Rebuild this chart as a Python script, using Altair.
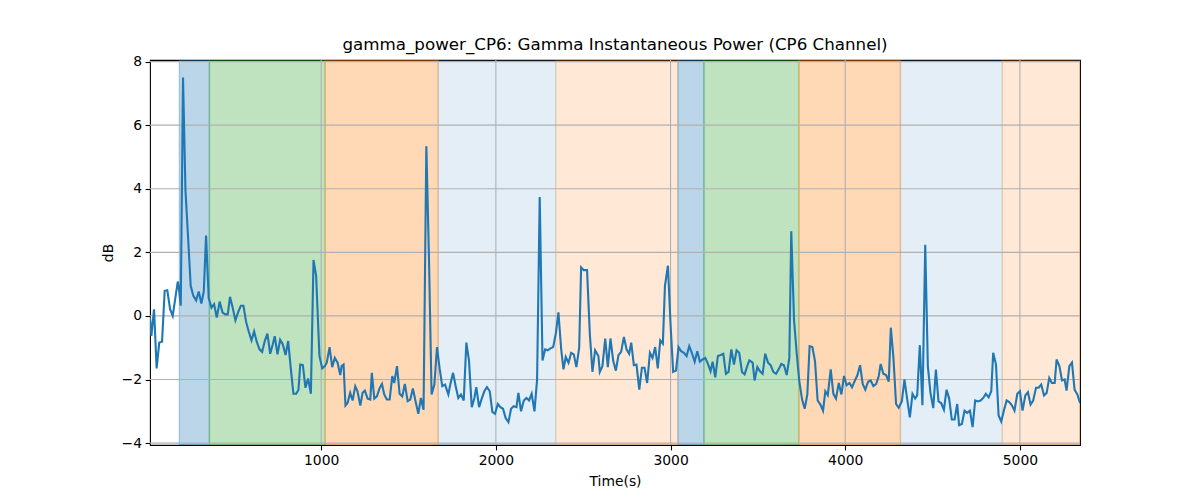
import altair as alt
import pandas as pd

# ---- line data (time in s, power in dB) ----
t_a = [20, 28, 43, 58, 73, 89, 104, 119, 135, 150, 165, 179, 184, 196, 209, 223, 238, 253, 268, 284,
       299, 314, 328, 341, 356, 372, 387, 402, 419, 435, 450, 465, 478, 494, 509, 524, 540, 555, 570,
       585, 601, 616, 631, 647, 662, 677, 692, 708, 723, 734, 750, 765, 780, 796, 811, 826, 841, 857, 870]
v_a = [-0.05, -0.63, 0.21, -1.65, -0.84, -0.81, 0.79, 0.81, 0.21, 0.0, 0.56, 1.08, 0.95, 0.32, 7.5,
       3.95, 2.47, 0.95, 0.63, 0.49, 0.77, 0.39, 0.77, 2.53, 0.56, 0.26, 0.37, -0.05, 0.45, 0.11, 0.05,
       0.05, 0.6, 0.24, -0.14, 0.11, 0.32, 0.32, -0.18, -0.49, -0.77, -0.49, -0.81, -1.05, -1.13, -0.79,
       -0.56, -1.19, -0.89, -0.64, -1.21, -0.75, -0.89, -1.23, -0.79, -1.65, -2.45, -2.45, -2.32]

t_b = [880, 895, 910, 925, 941, 956, 971, 990, 1006, 1021, 1032, 1048, 1063, 1078, 1094, 1109, 1117,
       1128, 1139, 1151, 1166, 1180, 1195, 1208, 1224, 1237, 1250, 1266, 1281, 1290, 1304, 1319, 1334,
       1348, 1361, 1376, 1392, 1407, 1418, 1434, 1449, 1464, 1479, 1495, 1510, 1525, 1540, 1556, 1571,
       1586, 1602, 1617, 1632, 1648, 1663, 1678, 1693, 1709, 1728]
v_b = [-1.53, -1.55, -2.26, -1.97, -2.45, 1.76, 1.26, -1.26, -1.65, -1.58, -1.47, -0.98, -1.61, -1.32,
       -1.47, -1.86, -1.58, -1.53, -2.82, -2.74, -2.42, -2.66, -2.21, -2.37, -2.82, -2.42, -2.35, -2.6,
       -2.63, -1.79, -2.6, -2.53, -2.28, -2.14, -2.47, -2.63, -2.63, -1.89, -2.11, -1.58, -2.45, -2.53,
       -2.14, -2.68, -2.63, -2.28, -2.68, -3.08, -2.58, -2.95, 5.34, 1.84, -2.47, -2.16, -0.98, -1.65,
       -2.21, -2.16, -2.47]

t_c = [1739, 1755, 1770, 1785, 1800, 1816, 1831, 1846, 1862, 1877, 1888, 1904, 1919, 1934, 1949, 1965,
       1980, 1995, 2011, 2026, 2041, 2056, 2072, 2087, 2102, 2118, 2129, 2144, 2160, 2175, 2190, 2205,
       2221, 2236, 2251, 2267, 2282, 2297, 2312, 2328, 2343, 2358, 2374, 2387, 2400, 2416, 2431, 2446,
       2461, 2477, 2488, 2503, 2522, 2538, 2553, 2568, 2587]
v_c = [-2.16, -1.79, -2.21, -2.58, -2.47, -2.66, -0.84, -1.4, -2.87, -2.58, -2.24, -2.87, -2.6, -2.37,
       -2.24, -2.37, -3.02, -3.08, -2.77, -2.87, -2.92, -3.21, -3.34, -2.92, -2.84, -2.87, -2.42, -3.0,
       -2.66, -2.58, -2.66, -2.45, -3.0, -2.0, 3.74, -1.4, -1.05, -1.08, -1.02, -0.98, -0.56, 0.11,
       -1.05, -1.68, -1.29, -1.47, -1.16, -1.21, -1.61, -1.0, 1.53, 1.44, 1.44, -0.58, -1.76, -1.08, -1.26]

t_d = [2595, 2610, 2626, 2641, 2656, 2672, 2687, 2702, 2717, 2733, 2748, 2763, 2775, 2790, 2805, 2821,
       2836, 2851, 2866, 2882, 2897, 2912, 2927, 2941, 2956, 2968, 2985, 3000, 3015, 3031, 3046, 3061,
       3076, 3092, 3107, 3122, 3138, 3153, 3168, 3183, 3199, 3214, 3229, 3241, 3256, 3271, 3287, 3302,
       3317, 3332, 3348, 3363, 3378, 3393, 3409, 3424, 3439, 3451]
v_d = [-1.76, -1.58, -0.71, -1.61, -0.71, -1.42, -1.72, -1.23, -1.13, -0.66, -1.05, -1.19, -0.84, -1.55,
       -1.53, -2.32, -1.63, -1.63, -2.11, -1.16, -1.32, -0.98, -1.65, -0.77, -0.87, 0.95, 1.58, -0.26,
       -1.76, -1.72, -0.98, -1.11, -1.16, -1.26, -0.95, -1.16, -1.44, -1.11, -1.44, -1.37, -1.32, -1.51,
       -1.74, -1.44, -1.93, -1.26, -1.23, -1.19, -1.82, -1.76, -1.05, -1.53, -1.08, -1.16, -1.76, -1.84,
       -1.58, -1.4]

t_e = [3470, 3481, 3497, 3512, 3527, 3542, 3558, 3573, 3588, 3604, 3619, 3634, 3649, 3665, 3680, 3691,
       3707, 3722, 3737, 3753, 3768, 3783, 3796, 3812, 3827, 3842, 3858, 3873, 3886, 3900, 3917, 3932,
       3947, 3963, 3978, 3993, 4008, 4024, 4039, 4054, 4070, 4085, 4100, 4115, 4131, 4146, 4161, 4177,
       4192, 4203, 4218, 4234, 4249, 4261, 4276, 4291, 4306]
v_e = [-1.47, -2.03, -1.61, -1.74, -1.82, -1.19, -1.47, -1.55, -1.76, -1.82, -1.68, -1.51, -1.55, -1.86,
       -1.32, 2.66, -0.14, -1.16, -2.05, -2.63, -2.92, -2.47, -0.95, -0.98, -1.42, -2.66, -2.79, -2.98,
       -2.37, -2.49, -1.68, -2.45, -2.6, -2.11, -2.47, -1.89, -2.18, -2.11, -2.24, -2.05, -1.86, -1.55,
       -2.14, -2.32, -2.07, -2.03, -2.21, -2.14, -1.89, -1.51, -1.82, -1.86, -2.07, -0.37, -1.32, -2.77,
       -2.89]

t_f = [4324, 4339, 4355, 4370, 4385, 4400, 4412, 4427, 4442, 4458, 4473, 4488, 4504, 4519, 4534, 4549,
       4565, 4580, 4595, 4610, 4626, 4641, 4652, 4668, 4683, 4698, 4714, 4729, 4744, 4759, 4775, 4790,
       4805, 4821, 4836, 4847, 4863, 4878, 4893, 4908, 4924, 4939, 4954, 4969, 4985, 5000, 5015, 5031,
       5046, 5061, 5076, 5092, 5107, 5122, 5138, 5153, 5168, 5183, 5199, 5210, 5226, 5241, 5256, 5267,
       5283, 5298, 5313, 5329, 5344]
v_f = [-2.69, -2.0, -2.63, -3.19, -2.45, -2.6, -2.5, -0.92, -2.81, 2.24, -1.58, -2.42, -2.9, -1.69,
       -2.69, -2.74, -2.95, -2.32, -2.6, -3.26, -3.26, -2.77, -3.44, -3.4, -2.98, -3.05, -2.98, -3.5,
       -2.66, -2.69, -2.66, -2.58, -2.45, -2.56, -2.37, -1.16, -1.53, -3.13, -3.32, -2.98, -2.66, -2.71,
       -2.81, -2.98, -2.45, -2.37, -2.98, -2.5, -2.4, -2.79, -2.66, -2.26, -2.26, -2.16, -2.5, -2.42,
       -1.95, -2.11, -2.11, -1.37, -1.58, -2.03, -2.0, -2.35, -1.58, -1.47, -2.32, -2.47, -2.74]

times = t_a + t_b + t_c + t_d + t_e + t_f
values = v_a + v_b + v_c + v_d + v_e + v_f

# ---- shaded phases ----
band_start = [188, 360, 1023, 1670, 2343, 3042, 3191, 3735, 4316, 4899]
band_end = [360, 1023, 1670, 2343, 3042, 3191, 3735, 4316, 4899, 5344]
band_kind = ["blue", "green", "orange", "lightblue", "lightorange",
             "blue", "green", "orange", "lightblue", "lightorange"]
kind_names = ["blue", "green", "orange", "lightblue", "lightorange"]
kind_colors = ["#1f77b4", "#2ca02c", "#ff7f0e", "#1f77b4", "#ff7f0e"]
kind_alpha = {"blue": 0.3, "green": 0.3, "orange": 0.3, "lightblue": 0.12, "lightorange": 0.17}

x_ticks = [1000, 2000, 3000, 4000, 5000]
y_ticks = [-4, -2, 0, 2, 4, 6, 8]

line_df = pd.DataFrame({"t": times, "v": values})
band_df = pd.DataFrame({
    "start": band_start,
    "end": band_end,
    "kind": band_kind,
    "alpha": [kind_alpha[k] for k in band_kind],
})
xgrid_df = pd.DataFrame({"x": x_ticks})
ygrid_df = pd.DataFrame({"y": y_ticks})

FONT = "DejaVu Sans"
GRID = "#b0b0b0"
xscale = alt.Scale(domain=[20, 5344], nice=False, zero=False)
yscale = alt.Scale(domain=[-4.06, 8.05], nice=False, zero=False)
kscale = alt.Scale(domain=kind_names, range=kind_colors)

xaxis = alt.Axis(values=x_ticks, format="d", title="Time(s)", titlePadding=7)
yaxis = alt.Axis(
    values=y_ticks,
    labelExpr="datum.value < 0 ? '\u2212' + format(-datum.value, 'd') : format(datum.value, 'd')",
    title="dB",
    titlePadding=6,
)

bands = alt.Chart(band_df).mark_rect(strokeWidth=1.4, clip=True).encode(
    x=alt.X("start:Q", scale=xscale, axis=xaxis),
    x2="end:Q",
    fill=alt.Fill("kind:N", scale=kscale, legend=None),
    stroke=alt.Stroke("kind:N", scale=kscale, legend=None),
    fillOpacity=alt.FillOpacity("alpha:Q", scale=None, legend=None),
    strokeOpacity=alt.StrokeOpacity("alpha:Q", scale=None, legend=None),
)

xgrid = alt.Chart(xgrid_df).mark_rule(color=GRID, strokeWidth=1.1, clip=True).encode(
    x=alt.X("x:Q", scale=xscale, axis=xaxis),
)
ygrid = alt.Chart(ygrid_df).mark_rule(color=GRID, strokeWidth=1.1, clip=True).encode(
    y=alt.Y("y:Q", scale=yscale, axis=yaxis),
)

line = alt.Chart(line_df).mark_line(color="#1f77b4", strokeWidth=2.1, clip=True).encode(
    x=alt.X("t:Q", scale=xscale, axis=xaxis),
    y=alt.Y("v:Q", scale=yscale, axis=yaxis),
)

chart = (
    alt.layer(bands, xgrid, ygrid, line)
    .properties(
        width=930,
        height=385,
        autosize=alt.AutoSizeParams(type="none"),
        padding={"left": 142, "top": 52, "right": 100, "bottom": 55},
        title=alt.TitleParams(
            "gamma_power_CP6: Gamma Instantaneous Power (CP6 Channel)",
            font=FONT, fontSize=16.7, fontWeight="normal", color="black",
            anchor="middle", offset=1,
        ),
    )
    .configure_view(stroke="black", strokeWidth=1.1)
    .configure_axis(
        labelFont=FONT, labelFontSize=13.9, labelColor="black",
        titleFont=FONT, titleFontSize=13.9, titleFontWeight="normal", titleColor="black",
        tickColor="black", tickSize=4.9, tickWidth=1.1, labelPadding=3.5,
        grid=False, domain=False,
    )
)

chart.save("out.html", embed_options={"renderer": "svg", "actions": False})
